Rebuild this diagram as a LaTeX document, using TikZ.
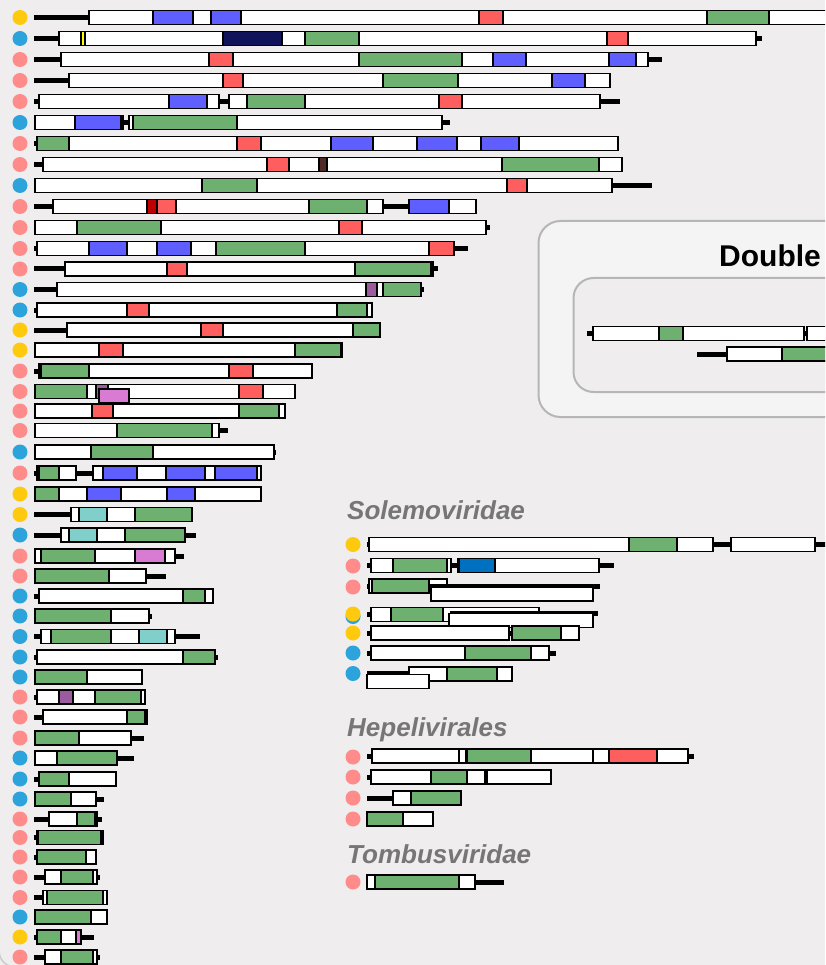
\documentclass[tikz,border=0pt]{standalone}
\usepackage{fontspec}
\setmainfont{Liberation Sans}
\definecolor{bgc}{HTML}{EFEDED}
\definecolor{frm}{HTML}{B6B6B6}
\definecolor{cg}{HTML}{6DB06F}
\definecolor{cb}{HTML}{5F5FFF}
\definecolor{cr}{HTML}{FF5E5E}
\definecolor{cn}{HTML}{10125A}
\definecolor{cy}{HTML}{FFFF00}
\definecolor{cp}{HTML}{9C5B9E}
\definecolor{cv}{HTML}{D97BD3}
\definecolor{ct}{HTML}{80CFCB}
\definecolor{cd}{HTML}{0070C0}
\definecolor{ck}{HTML}{C00000}
\definecolor{cbr}{HTML}{4F2828}
\definecolor{dy}{HTML}{FFC90E}
\definecolor{db}{HTML}{2CA3DB}
\definecolor{dp}{HTML}{FF8B8B}
\definecolor{lbl}{HTML}{767676}
\newcommand\gLn[3]{\draw[lnkst] (#1,#3) -- (#2,#3);}
\newcommand\gBx[3]{\filldraw[boxst] (#1,#3-7) rectangle (#2,#3+7);}
\newcommand\gSg[4]{\filldraw[boxst,fill=#4] (#1,#3-7) rectangle (#2,#3+7);}
\newcommand\gDot[2]{\fill[#2] (20,#1) circle (7.5);}
\newcommand\gDotR[2]{\fill[#2] (353,#1) circle (7.5);}
\begin{document}
\begin{tikzpicture}[x=1pt,y=-1pt,
  boxst/.style={draw=black,line width=1.5pt,fill=white},
  lnkst/.style={draw=black,line width=5pt},
  frmst/.style={draw=frm,line width=2pt,rounded corners=22pt},
  famlbl/.style={anchor=base west,inner sep=0pt,text=lbl,font=\fontsize{26}{30}\selectfont\bfseries\itshape}]
\useasboundingbox (0,0) rectangle (825,965);
\clip (0,0) rectangle (825,965);
\fill[bgc] (0,0) rectangle (825,965);
\draw[frm!70!white,line width=1.5pt,rounded corners=16pt] (-0.9,-40) rectangle (1200,967);
% ---------- circles left ----------
\gDot{17.5}{dy}\gDot{38.5}{db}\gDot{59.5}{dp}\gDot{80.5}{dp}\gDot{101.5}{dp}
\gDot{122.5}{db}\gDot{143.5}{dp}\gDot{164.5}{dp}\gDot{185.5}{db}\gDot{206.5}{dp}
\gDot{227.5}{dp}\gDot{248.5}{dp}\gDot{269}{dp}\gDot{289.5}{db}\gDot{310}{db}
\gDot{330}{dy}\gDot{350}{dy}\gDot{371}{dp}\gDot{391.5}{dp}\gDot{411}{dp}
\gDot{430.5}{dp}\gDot{452}{db}\gDot{473}{dp}\gDot{494}{dy}\gDot{514.5}{dy}
\gDot{535}{db}\gDot{556}{dp}\gDot{576}{dp}\gDot{596}{db}\gDot{616}{db}
\gDot{636.5}{db}\gDot{657}{db}\gDot{677}{db}\gDot{697}{dp}\gDot{717}{dp}
\gDot{738}{dp}\gDot{758}{db}\gDot{779}{db}\gDot{799}{db}\gDot{819}{dp}
\gDot{837.5}{dp}\gDot{857}{dp}\gDot{877}{dp}\gDot{897.5}{dp}\gDot{917}{db}
\gDot{937}{dy}\gDot{957}{dp}
% ---------- rows left ----------
% 1
\gLn{34}{89}{17.5}\gBx{89}{840}{17.5}
\gSg{153}{193}{17.5}{cb}\gSg{211}{241}{17.5}{cb}\gSg{479}{503}{17.5}{cr}\gSg{707}{769}{17.5}{cg}
% 2
\gLn{34}{59}{38.5}\gLn{756}{762}{38.5}\gBx{59}{756}{38.5}
\gSg{81}{85}{38.5}{cy}\gSg{223}{282}{38.5}{cn}\gSg{305}{359}{38.5}{cg}\gSg{607}{628}{38.5}{cr}
% 3
\gLn{34}{61}{59.5}\gLn{648}{662}{59.5}\gBx{61}{648}{59.5}
\gSg{209}{233}{59.5}{cr}\gSg{359}{462}{59.5}{cg}\gSg{493}{526}{59.5}{cb}\gSg{609}{636}{59.5}{cb}
% 4
\gLn{34}{69}{80.5}\gBx{69}{610}{80.5}
\gSg{223}{243}{80.5}{cr}\gSg{383}{458}{80.5}{cg}\gSg{552}{585}{80.5}{cb}
% 5
\gLn{34}{39}{101.5}\gLn{219}{229}{101.5}\gLn{600}{620}{101.5}
\gBx{39}{219}{101.5}\gSg{169}{207}{101.5}{cb}
\gBx{229}{600}{101.5}\gSg{247}{305}{101.5}{cg}\gSg{439}{462}{101.5}{cr}
% 6
\gLn{123}{129}{122.5}\gLn{442}{450}{122.5}
\gBx{35}{123}{122.5}\gSg{75}{121}{122.5}{cb}
\gBx{129}{442}{122.5}\gSg{129}{133}{122.5}{white}\gSg{133}{237}{122.5}{cg}
% 7
\gLn{34}{37}{143.5}\gBx{37}{618}{143.5}
\gSg{37}{69}{143.5}{cg}\gSg{237}{261}{143.5}{cr}\gSg{331}{373}{143.5}{cb}\gSg{417}{457}{143.5}{cb}\gSg{481}{519}{143.5}{cb}
% 8
\gLn{34}{43}{164.5}\gBx{43}{622}{164.5}
\gSg{267}{289}{164.5}{cr}\gSg{319}{327}{164.5}{cbr}\gSg{502}{599}{164.5}{cg}
% 9
\gLn{612}{652}{185.5}\gBx{35}{612}{185.5}
\gSg{202}{257}{185.5}{cg}\gSg{507}{527}{185.5}{cr}
% 10
\gLn{34}{53}{206.5}\gLn{383}{409}{206.5}
\gBx{53}{383}{206.5}\gSg{147}{157}{206.5}{ck}\gSg{157}{176}{206.5}{cr}\gSg{309}{367}{206.5}{cg}
\gBx{409}{476}{206.5}\gSg{409}{449}{206.5}{cb}
% 11
\gLn{486}{490}{227.5}\gBx{35}{486}{227.5}
\gSg{77}{161}{227.5}{cg}\gSg{339}{362}{227.5}{cr}
% 12
\gLn{34}{37}{248.5}\gLn{454}{468}{248.5}\gBx{37}{454}{248.5}
\gSg{89}{127}{248.5}{cb}\gSg{157}{191}{248.5}{cb}\gSg{216}{305}{248.5}{cg}\gSg{429}{454}{248.5}{cr}
% 13
\gLn{34}{65}{269}\gLn{433}{438}{269}\gBx{65}{433}{269}
\gSg{167}{187}{269}{cr}\gSg{355}{431}{269}{cg}
% 14
\gLn{34}{57}{289.5}\gLn{421}{424}{289.5}\gBx{57}{421}{289.5}
\gSg{366}{377}{289.5}{cp}\gSg{383}{421}{289.5}{cg}
% 15
\gLn{34}{37}{310}\gBx{37}{372}{310}
\gSg{127}{149}{310}{cr}\gSg{337}{367}{310}{cg}
% 16
\gLn{34}{67}{330}\gBx{67}{380}{330}
\gSg{201}{223}{330}{cr}\gSg{353}{380}{330}{cg}
% 17
\gBx{35}{342}{350}\gSg{99}{123}{350}{cr}\gSg{295}{341}{350}{cg}
% 18
\gLn{34}{39}{371}\gBx{39}{312}{371}
\gSg{41}{89}{371}{cg}\gSg{229}{253}{371}{cr}
% 19
\gBx{35}{295}{391.5}\gSg{35}{87}{391.5}{cg}\gSg{96}{108}{391.5}{cp}\gSg{239}{263}{391.5}{cr}
\filldraw[boxst,fill=cv] (99,389) rectangle (129,403);
% 20
\gBx{35}{285}{411}\gSg{92}{113}{411}{cr}\gSg{239}{279}{411}{cg}
% 21
\gLn{219}{228}{430.5}\gBx{35}{219}{430.5}\gSg{117}{212}{430.5}{cg}
% 22
\gLn{274}{276}{452}\gBx{35}{274}{452}\gSg{91}{153}{452}{cg}
% 23
\gLn{34}{37}{473}\gLn{76}{93}{473}
\gBx{37}{76}{473}\gSg{39}{59}{473}{cg}
\gBx{93}{261}{473}\gSg{103}{137}{473}{cb}\gSg{166}{205}{473}{cb}\gSg{215}{257}{473}{cb}
% 24
\gBx{35}{261}{494}\gSg{35}{59}{494}{cg}\gSg{87}{121}{494}{cb}\gSg{167}{195}{494}{cb}
% 25
\gLn{34}{71}{514.5}\gBx{71}{192}{514.5}\gSg{79}{107}{514.5}{ct}\gSg{135}{192}{514.5}{cg}
% 26
\gLn{34}{61}{535}\gLn{185}{196}{535}\gBx{61}{185}{535}
\gSg{69}{97}{535}{ct}\gSg{125}{185}{535}{cg}
% 27
\gLn{175}{184}{556}\gBx{35}{175}{556}\gSg{41}{95}{556}{cg}\gSg{135}{165}{556}{cv}
% 28
\gLn{146}{166}{576}\gBx{35}{146}{576}\gSg{35}{109}{576}{cg}
% 29
\gLn{34}{39}{596}\gBx{39}{213}{596}\gSg{183}{205}{596}{cg}
% 30
\gLn{149}{152}{616}\gBx{35}{149}{616}\gSg{35}{111}{616}{cg}
% 31
\gLn{34}{41}{636.5}\gLn{175}{200}{636.5}\gBx{41}{175}{636.5}
\gSg{51}{111}{636.5}{cg}\gSg{139}{167}{636.5}{ct}
% 32
\gLn{34}{37}{657}\gLn{215}{218}{657}\gBx{37}{215}{657}\gSg{183}{215}{657}{cg}
% 33
\gBx{35}{142}{677}\gSg{35}{87}{677}{cg}
% 34
\gLn{34}{37}{697}\gBx{37}{145}{697}\gSg{59}{73}{697}{cp}\gSg{95}{141}{697}{cg}
% 35
\gLn{34}{43}{717}\gBx{43}{147}{717}\gSg{127}{145}{717}{cg}
% 36
\gLn{131}{144}{738}\gBx{35}{131}{738}\gSg{35}{79}{738}{cg}
% 37
\gLn{117}{134}{758}\gBx{35}{117}{758}\gSg{57}{117}{758}{cg}
% 38
\gLn{34}{39}{779}\gBx{39}{116}{779}\gSg{39}{69}{779}{cg}
% 39
\gLn{96}{104}{799}\gBx{35}{96}{799}\gSg{35}{71}{799}{cg}
% 40
\gLn{34}{49}{819}\gLn{97}{102}{819}\gBx{49}{97}{819}\gSg{77}{95}{819}{cg}
% 41
\gLn{34}{37}{837.5}\gBx{37}{103}{837.5}\gSg{38}{101}{837.5}{cg}
% 42
\gLn{34}{37}{857}\gBx{37}{96}{857}\gSg{37}{86}{857}{cg}
% 43
\gLn{34}{45}{877}\gLn{97}{100}{877}\gBx{45}{97}{877}\gSg{61}{93}{877}{cg}
% 44
\gLn{34}{43}{897.5}\gBx{43}{107}{897.5}\gSg{47}{103}{897.5}{cg}
% 45
\gBx{35}{107}{917}\gSg{35}{91}{917}{cg}
% 46
\gLn{34}{37}{937}\gLn{81}{94}{937}\gBx{37}{81}{937}\gSg{37}{61}{937}{cg}\gSg{76}{81}{937}{cv}
% 47
\gLn{34}{45}{957}\gLn{97}{100}{957}\gBx{45}{97}{957}\gSg{61}{93}{957}{cg}
% ---------- Double panel ----------
\draw[frmst,fill=bgc!60!white] (538.5,221) rectangle (1000,417);
\node[anchor=base west,inner sep=0pt,font=\fontsize{30}{34}\selectfont\bfseries] (dbl) at (719,267) {Double};
\draw[frmst,fill=bgc,rounded corners=20pt] (573.5,278) rectangle (1000,392);
\gLn{587}{593}{333.5}\gLn{804}{807}{333.5}
\gBx{593}{804}{333.5}\gSg{659}{683}{333.5}{cg}
\gBx{807}{840}{333.5}
\gLn{697}{727}{354}\gBx{727}{840}{354}\gSg{782}{840}{354}{cg}
% ---------- Solemoviridae ----------
\node[famlbl] (sole) at (347,519) {Solemoviridae};
\gDotR{544.5}{dy}\gDotR{566}{dp}\gDotR{587}{dp}\fill[db] (353,616.5) circle (7.5);\gDotR{614}{dy}
\gDotR{633}{dy}\gDotR{653}{db}\gDotR{673.5}{db}
% S1
\gLn{367}{369}{544.5}\gLn{713}{731}{544.5}\gLn{815}{830}{544.5}
\gBx{369}{713}{544.5}\gSg{629}{677}{544.5}{cg}\gBx{731}{815}{544.5}
% S2
\gLn{367}{371}{565.5}\gLn{451}{458}{565.5}\gLn{599}{614}{565.5}
\gBx{371}{451}{565.5}\gSg{393}{447}{565.5}{cg}
\gBx{458}{599}{565.5}\gSg{459}{495}{565.5}{cd}
% S3
\gLn{367}{369}{586}
\gBx{369}{447}{586}\gSg{372}{429}{586}{cg}
\gLn{430}{600}{586.5}
\gBx{431}{593}{594}
% S4
\gLn{367}{371}{614.5}
\gBx{371}{539}{614.5}\gSg{391}{443}{614.5}{cg}
\gLn{450}{598}{613.5}
\gBx{449}{593}{620.5}
% S5
\gLn{367}{371}{633}\gLn{509}{512}{633}
\gBx{371}{509}{633}\gBx{512}{579}{633}\gSg{512}{561}{633}{cg}
% S6
\gLn{367}{371}{653}\gLn{549}{556}{653}
\gBx{371}{549}{653}\gSg{465}{531}{653}{cg}
% S7
\gBx{409}{512}{674}\gSg{447}{497}{674}{cg}
\gLn{367}{409}{673.5}
\gBx{367}{429}{681.5}
% ---------- Hepelivirales ----------
\node[famlbl] (hepe) at (347,736) {Hepelivirales};
\gDotR{757}{dp}\gDotR{777}{dp}\gDotR{798}{dp}\gDotR{819}{dp}
\gLn{367}{372}{756}\gLn{688}{694}{756}
\gBx{372}{688}{756}\gSg{459}{466}{756}{white}\gSg{467}{531}{756}{cg}\gSg{593}{609}{756}{white}\gSg{609}{657}{756}{cr}
\gLn{367}{371}{777}\gBx{371}{485}{777}\gSg{431}{467}{777}{cg}\gBx{487}{551}{777}
\gLn{367}{393}{798}\gBx{393}{461}{798}\gSg{411}{461}{798}{cg}
\gBx{367}{433}{819}\gSg{367}{403}{819}{cg}
% ---------- Tombusviridae ----------
\node[famlbl] (tomb) at (347,863) {Tombusviridae};
\gDotR{882}{dp}
\gLn{475}{504}{882}\gBx{367}{475}{882}\gSg{375}{459}{882}{cg}
\end{tikzpicture}
\end{document}
